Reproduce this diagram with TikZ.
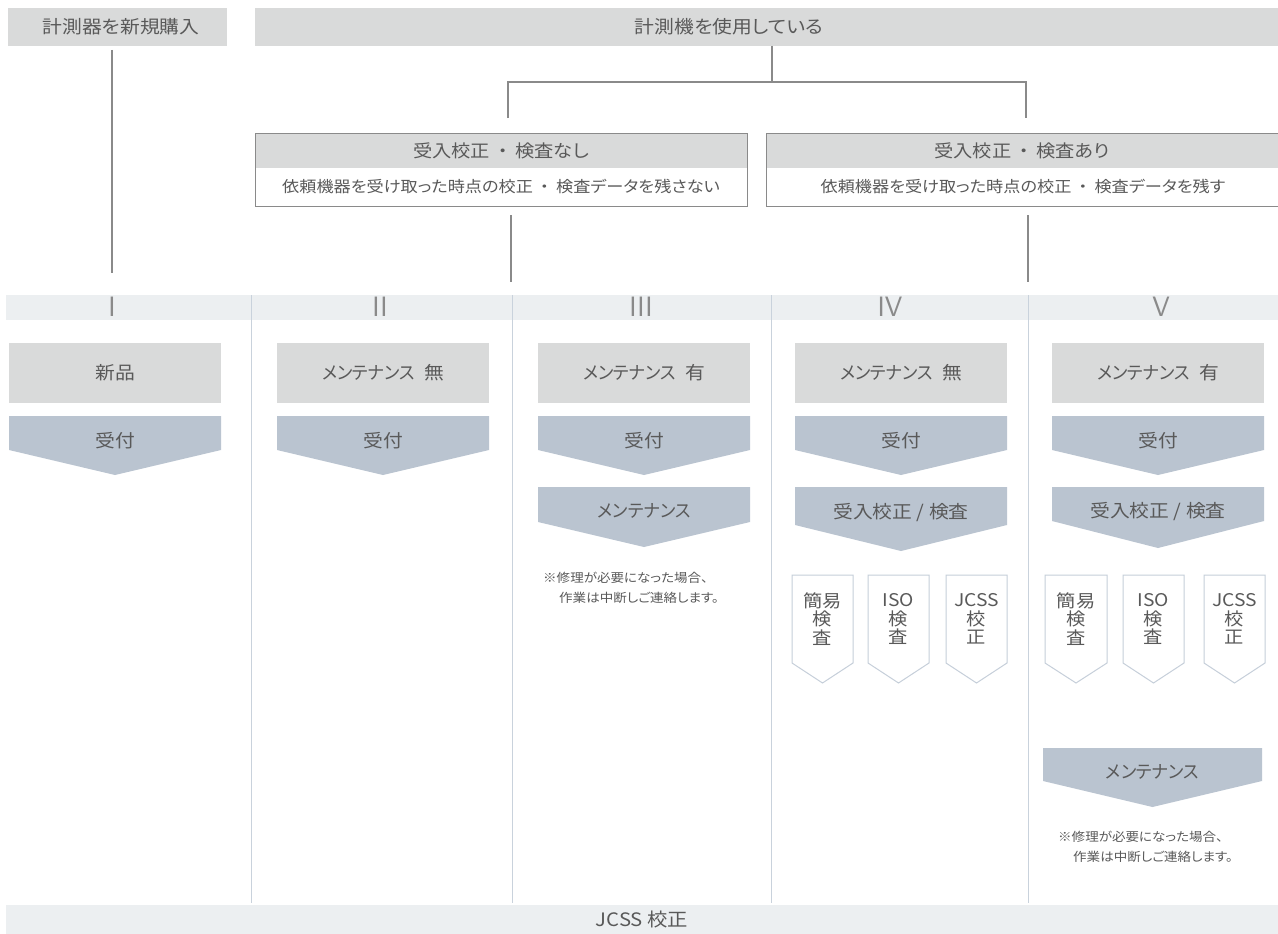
\documentclass[tikz,border=0pt]{standalone}
\usepackage{fontspec}
\setmainfont{Noto Sans CJK JP}[FakeStretch=1.1,RawFeature=+palt]
\newfontfamily\kanafont{Noto Sans CJK JP}[FakeStretch=0.96,RawFeature=+palt]
\newfontfamily\fullfont{Noto Sans CJK JP}[FakeStretch=1.1]
\newcommand{\kn}[1]{{\kanafont #1}}
\newcommand{\mdot}{\hspace{3pt}{\fullfont ・}\hspace{3pt}}
\definecolor{boxgray}{HTML}{D9DADA}
\definecolor{chevc}{HTML}{BAC4D0}
\definecolor{bandc}{HTML}{ECEFF1}
\definecolor{divc}{HTML}{C9D2DC}
\definecolor{txtc}{HTML}{595959}
\definecolor{connc}{HTML}{8A8A8A}
\definecolor{smallb}{HTML}{C6CFDA}
\definecolor{numc}{HTML}{8A8A8A}
\tikzset{
  txt/.style={text=txtc, inner sep=0pt, font=\fontsize{18}{21}\selectfont},
  toptxt/.style={txt, font=\fontsize{18}{21}\selectfont},
  headtxt/.style={txt, font=\fontsize{17.5}{21}\selectfont},
  subtxt/.style={txt, font=\fontsize{15.6}{19}\selectfont},
  gbox/.style={fill=boxgray, draw=none, text=txtc, inner sep=0pt, font=\fontsize{18}{21}\selectfont},
  hbox/.style={draw=connc, line width=1pt, fill=none, inner sep=0pt},
  conn/.style={draw=connc, line width=1.3pt},
  divline/.style={draw=divc, line width=1pt},
  chevfill/.style={fill=chevc},
  smallbox/.style={draw=smallb, fill=white, line width=1pt},
  stext/.style={txt, align=center, font=\fontsize{17.5}{18.5}\selectfont},
  note/.style={text=txtc, inner sep=0pt, anchor=west, font=\fontsize{12.3}{15}\selectfont},
  numlab/.style={text=numc, inner sep=0pt, font=\sffamily\fontsize{28}{30}\selectfont},
  bandbar/.style={fill=bandc, draw=none, inner sep=0pt, text=txtc, font=\fontsize{18.5}{21}\selectfont}
}
\newcommand{\flowchev}[8]{%
  \fill[chevfill] (#2,#4) -- (#3,#4) -- (#3,#5) -- ({(#2+#3)/2},#6) -- (#2,#5) -- cycle;
  \node[txt] (#1) at ({(#2+#3)/2},#7) {#8};
}
\newcommand{\smallstep}[4]{%
  \draw[smallbox] (#2,575) -- (#3,575) -- (#3,663) -- ({(#2+#3)/2},683) -- (#2,663) -- cycle;
  \node[stext] (#1) at ({(#2+#3)/2},619) {#4};
}
\begin{document}
\begin{tikzpicture}[x=1pt,y=-1pt]
\useasboundingbox (0,0) rectangle (1278,934);
\fill[white] (0,0) rectangle (1278,934);

% top boxes
\node[gbox, minimum width=219, minimum height=38] (A) at (117,27) {};
\node[toptxt] (At) at (121,27) {計測器を新規購入};
\node[gbox, minimum width=1040, minimum height=38] (B) at (775,27) {};
\node[toptxt] (Bt) at (729,27) {計測機を使用している};

% second level boxes
\fill[boxgray] (255,133) rectangle (747,168);
\node[hbox, minimum width=492, minimum height=73] (C) at (501,169.5) {};
\node[headtxt] (Ch) at (501,151) {受入校正\mdot 検査なし};
\node[subtxt] (Cs) at (501,187) {依頼機器を受け取った時点の校正\mdot 検査データを残さない};

\fill[boxgray] (766,133) rectangle (1290,168);
\node[hbox, minimum width=524, minimum height=73] (D) at (1028,169.5) {};
\node[headtxt] (Dh) at (1022,151) {受入校正\mdot 検査あり};
\node[subtxt] (Ds) at (1023,187) {依頼機器を受け取った時点の校正\mdot 検査データを残す};

% connectors
\coordinate (a0) at (112,50);
\coordinate (a1) at (112,273);
\draw[conn] (a0) -- (a1);
\coordinate (j0) at (772,46);
\coordinate (j1) at (772,82);
\coordinate (cl) at (508,118);
\coordinate (cr) at (1026,118);
\draw[conn] (j0) -- (j1);
\draw[conn] (cl) |- (j1) -| (cr);
\coordinate (c0) at (511,215);
\coordinate (c1) at (511,282);
\draw[conn] (c0) -- (c1);
\coordinate (d0) at (1028,215);
\coordinate (d1) at (1028,282);
\draw[conn] (d0) -- (d1);

% column band and dividers
\node[bandbar, minimum width=1272, minimum height=25] (band) at (642,307.5) {};
\foreach \xx in {251,512,771,1028} {
  \draw[divline] (\xx,295) -- (\xx,903);
}
\node[numlab] (L1) at (112,307) {I};
\node[numlab] (L2) at (380,307) {II};
\node[numlab] (L3) at (641,307) {III};
\node[numlab] (L4) at (890,307) {IV};
\node[numlab] (L5) at (1161,307) {V};

% column I
\node[gbox, minimum width=212, minimum height=60] (n1) at (115,373) {新品};
\flowchev{r1}{9}{221}{416}{450}{475}{441}{受付}

% column II
\node[gbox, minimum width=212, minimum height=60] (n2) at (383,373) {\kn{メンテナンス}\hspace{9pt}無};
\flowchev{r2}{277}{489}{416}{450}{475}{441}{受付}

% column III
\node[gbox, minimum width=212, minimum height=60] (n3) at (644,373) {\kn{メンテナンス}\hspace{9pt}有};
\flowchev{r3}{538}{750}{416}{450}{475}{441}{受付}
\flowchev{m3}{538}{750}{487}{522}{547}{511}{\kn{メンテナンス}}
\node[note] (t3a) at (543,578) {※修理が必要になった場合、};
\node[note] (t3b) at (559,598) {作業は中断しご連絡します。};

% column IV
\node[gbox, minimum width=212, minimum height=60] (n4) at (901,373) {\kn{メンテナンス}\hspace{9pt}無};
\flowchev{r4}{795}{1007}{416}{450}{475}{441}{受付}
\flowchev{k4}{795}{1007}{487}{525}{551}{513}{受入校正 / 検査}
\smallstep{s41}{792}{853}{簡易\\検\\査}
\smallstep{s42}{868}{929}{ISO\\検\\査}
\smallstep{s43}{946}{1007}{JCSS\\校\\正}

% column V
\node[gbox, minimum width=212, minimum height=60] (n5) at (1158,373) {\kn{メンテナンス}\hspace{9pt}有};
\flowchev{r5}{1052}{1264}{416}{450}{475}{441}{受付}
\flowchev{k5}{1052}{1264}{487}{521}{548}{512}{受入校正 / 検査}
\smallstep{s51}{1045}{1107}{簡易\\検\\査}
\smallstep{s52}{1123}{1184}{ISO\\検\\査}
\smallstep{s53}{1204}{1265}{JCSS\\校\\正}
\flowchev{m5}{1043}{1262}{748}{781}{807}{772}{\kn{メンテナンス}}
\node[note] (t5a) at (1058,837) {※修理が必要になった場合、};
\node[note] (t5b) at (1073,857) {作業は中断しご連絡します。};

% bottom bar
\node[bandbar, minimum width=1272, minimum height=29] (J) at (642,919.5) {JCSS 校正};
\end{tikzpicture}
\end{document}
